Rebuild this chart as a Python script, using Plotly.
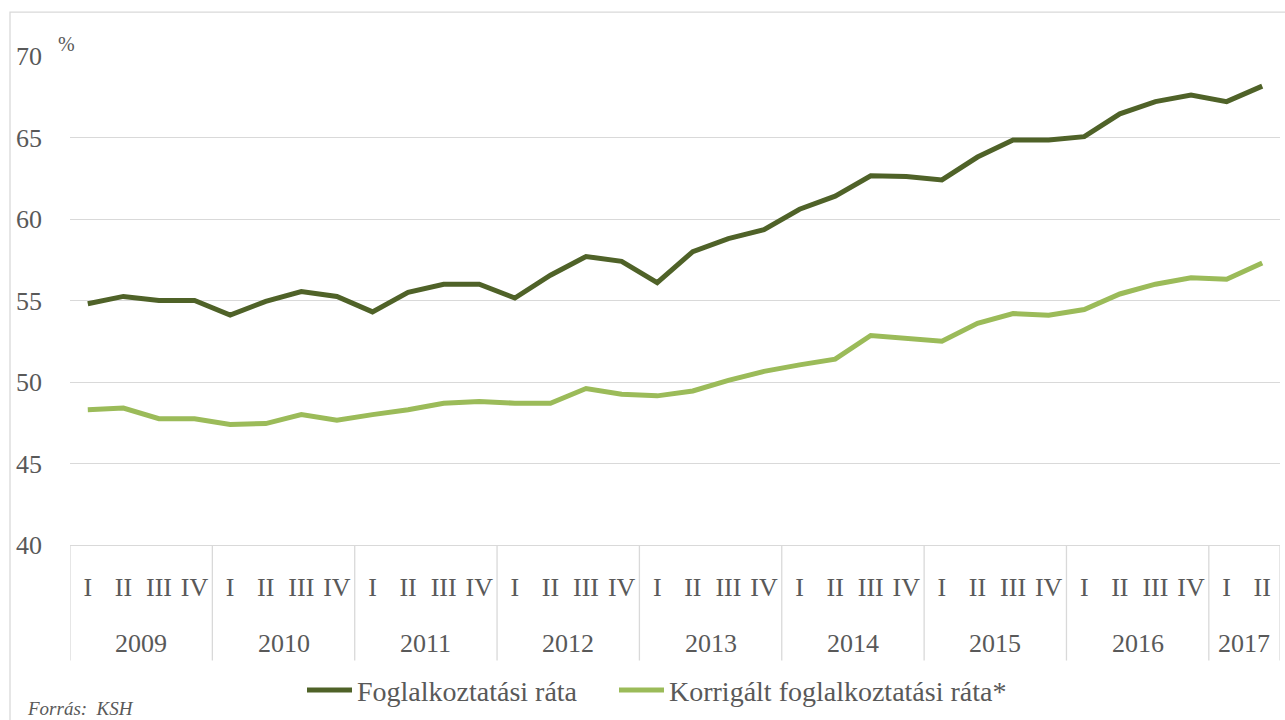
import plotly.graph_objects as go

years = ["2009", "2010", "2011", "2012", "2013", "2014", "2015", "2016", "2017"]
quarters_per_year = [4, 4, 4, 4, 4, 4, 4, 4, 2]
quarter_names = ["I", "II", "III", "IV"]

foglalkoztatasi = [54.8, 55.25, 55.0, 55.0,
                   54.1, 54.95, 55.55, 55.25,
                   54.3, 55.5, 56.0, 56.0,
                   55.15, 56.55, 57.7, 57.4,
                   56.1, 58.0, 58.8, 59.35,
                   60.6, 61.4, 62.65, 62.6,
                   62.4, 63.8, 64.85, 64.85,
                   65.05, 66.45, 67.2, 67.6,
                   67.2, 68.15]
korrigalt = [48.3, 48.4, 47.75, 47.75,
             47.4, 47.45, 48.0, 47.65,
             48.0, 48.3, 48.7, 48.8,
             48.7, 48.7, 49.6, 49.25,
             49.15, 49.45, 50.1, 50.65,
             51.05, 51.4, 52.85, 52.7,
             52.5, 53.6, 54.2, 54.1,
             54.45, 55.4, 56.0, 56.4,
             56.3, 57.3]

series_names = ["Foglalkoztatási ráta", "Korrigált foglalkoztatási ráta*"]
colors = ["#4F6228", "#9BBB59"]

quarter_labels = []
for n in quarters_per_year:
    quarter_labels += quarter_names[:n]
xs = list(range(len(quarter_labels)))

FONT = "Liberation Serif, Times New Roman, serif"
GRAY = "#595959"
GRID = "#D9D9D9"

# plot geometry (pixels)
L, R, T, B = 70, 5, 56, 173
W, H = 1285, 720
pw = W - L - R
ph = H - T - B

def py(ypix):
    return (H - B - ypix) / ph

def px(xpix):
    return (xpix - L) / pw

fig = go.Figure()
legend_ids = ["legend", "legend2"]
for name, vals, col, lg in zip(series_names, [foglalkoztatasi, korrigalt], colors, legend_ids):
    fig.add_trace(go.Scatter(x=xs, y=vals, mode="lines", name=name, legend=lg,
                             line=dict(color=col, width=5)))

shapes = []
annotations = []
start = 0
for yr, n in zip(years, quarters_per_year):
    annotations.append(dict(x=start + (n - 1) / 2, y=py(646), xref="x", yref="paper",
                            text=yr, showarrow=False, yanchor="middle",
                            font=dict(family=FONT, size=26, color=GRAY)))
    shapes.append(dict(type="line", xref="x", yref="paper", x0=start - 0.5, x1=start - 0.5,
                       y0=0, y1=py(663), line=dict(color=GRID, width=1.3)))
    start += n
shapes.append(dict(type="line", xref="x", yref="paper", x0=start - 0.5, x1=start - 0.5,
                   y0=0, y1=py(663), line=dict(color=GRID, width=1.3)))
# chart border
shapes.append(dict(type="rect", xref="paper", yref="paper", x0=px(10), x1=px(1295),
                   y0=py(730), y1=py(12), line=dict(color=GRID, width=1.3),
                   fillcolor="rgba(0,0,0,0)", layer="below"))

annotations.append(dict(x=px(66), y=py(44), xref="paper", yref="paper", text="%",
                        showarrow=False, xanchor="center", yanchor="middle",
                        font=dict(family=FONT, size=20, color=GRAY)))
annotations.append(dict(x=px(25), y=py(711), xref="paper", yref="paper",
                        text="<i>Forrás:  KSH</i>", showarrow=False,
                        xanchor="left", yanchor="middle",
                        font=dict(family=FONT, size=19, color=GRAY)))

legend_common = dict(orientation="h", xanchor="left", y=py(693), yanchor="middle",
                     font=dict(family=FONT, size=28, color=GRAY), itemwidth=45,
                     bgcolor="rgba(0,0,0,0)")

fig.update_layout(
    width=W, height=H,
    margin=dict(l=L, r=R, t=T, b=B),
    paper_bgcolor="white", plot_bgcolor="white",
    font=dict(family=FONT, color=GRAY),
    showlegend=True,
    legend=dict(x=px(302), **legend_common),
    legend2=dict(x=px(614), **legend_common),
    shapes=shapes, annotations=annotations,
    hovermode=False,
)
fig.update_xaxes(range=[-0.5, len(xs) - 0.5], tickmode="array", tickvals=xs,
                 ticktext=quarter_labels, showgrid=False, zeroline=False,
                 showline=True, linecolor=GRID, linewidth=1.3,
                 ticks="", ticklabelstandoff=19,
                 tickfont=dict(family=FONT, size=26, color=GRAY))
fig.update_yaxes(range=[40, 70], dtick=5, tick0=40, showgrid=True, gridcolor=GRID,
                 gridwidth=1.3, zeroline=False, showline=False, ticks="",
                 ticklabelstandoff=27,
                 tickfont=dict(family=FONT, size=26, color=GRAY))

fig.write_html("out.html", config={"displayModeBar": False},
               post_script="document.body.style.margin='0px';")
